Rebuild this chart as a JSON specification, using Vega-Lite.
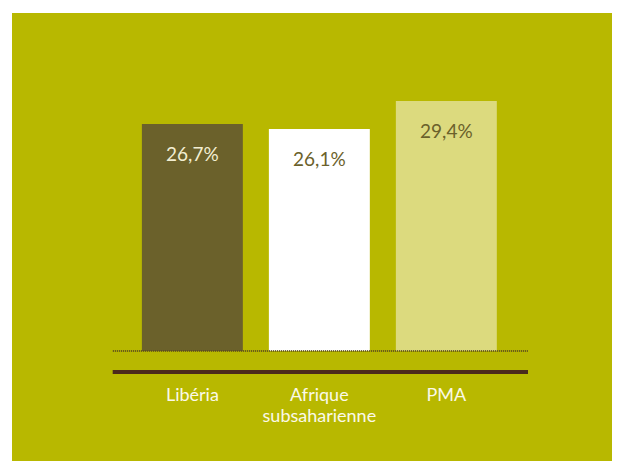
{
  "$schema": "https://vega.github.io/schema/vega-lite/v6.json",
  "width": 600,
  "height": 448,
  "autosize": {"type": "none"},
  "padding": {"left": 12, "top": 13, "right": 5, "bottom": 0},
  "background": "#ffffff",
  "config": {
    "view": {"fill": "#b8b800", "stroke": null},
    "font": "Lato"
  },
  "data": {
    "values": [
      {"region": "Libéria", "value": 26.7, "tone": "dark"},
      {"region": "Afrique subsaharienne", "value": 26.1, "tone": "white"},
      {"region": "PMA", "value": 29.4, "tone": "light"}
    ]
  },
  "transform": [
    {"calculate": "replace(format(datum.value, '.1f'), '.', ',') + '%'", "as": "label"}
  ],
  "encoding": {
    "x": {
      "field": "region",
      "type": "nominal",
      "sort": null,
      "scale": {"paddingInner": 0.205, "paddingOuter": 0.965, "align": 0.53},
      "axis": null
    }
  },
  "layer": [
    {
      "mark": {"type": "bar"},
      "encoding": {
        "y": {"field": "value", "type": "quantitative", "scale": {"domain": [-12.94, 39.76], "nice": false, "zero": false}, "axis": null},
        "y2": {"datum": 0},
        "color": {
          "field": "tone", "type": "nominal", "legend": null,
          "scale": {"domain": ["dark", "white", "light"], "range": ["#6b612b", "#ffffff", "#dcda7e"]}
        }
      }
    },
    {
      "mark": {"type": "rule", "strokeDash": [1, 1], "strokeWidth": 1, "color": "#5e4d1f", "xOffset": -29, "x2Offset": 31},
      "encoding": {
        "x": {"datum": "Libéria", "bandPosition": 0},
        "x2": {"datum": "PMA", "bandPosition": 1},
        "y": {"datum": 0}
      }
    },
    {
      "mark": {"type": "rule", "strokeWidth": 4, "color": "#4b2a1c", "xOffset": -29, "x2Offset": 31},
      "encoding": {
        "x": {"datum": "Libéria", "bandPosition": 0},
        "x2": {"datum": "PMA", "bandPosition": 1},
        "y": {"datum": -2.47}
      }
    },
    {
      "mark": {"type": "text", "baseline": "alphabetic", "dy": 37, "fontSize": 19},
      "encoding": {
        "y": {"field": "value", "type": "quantitative"},
        "text": {"field": "label"},
        "color": {
          "field": "tone", "type": "nominal", "legend": null,
          "scale": {"domain": ["dark", "white", "light"], "range": ["#f2eed2", "#6b612b", "#6b612b"]}
        }
      }
    },
    {
      "mark": {"type": "text", "baseline": "alphabetic", "fontSize": 18, "lineBreak": " ", "lineHeight": 21, "color": "#fbf9e8"},
      "encoding": {
        "y": {"datum": -5.94},
        "text": {"field": "region"}
      }
    }
  ],
  "resolve": {"scale": {"color": "independent"}}
}
